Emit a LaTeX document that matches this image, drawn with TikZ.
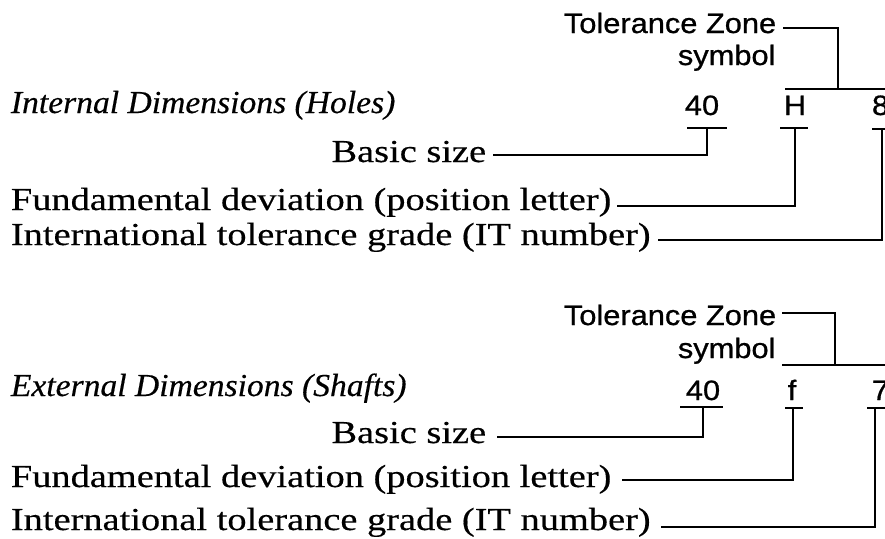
\documentclass[tikz,border=0pt]{standalone}
\usepackage{fontspec}
\setmainfont{Liberation Serif}[FakeStretch=1.2, FakeBold=0.4, ItalicFeatures={FakeStretch=1.05,FakeBold=0.4}]
\newfontfamily\labfont{Liberation Sans}[FakeStretch=1.1, FakeBold=0.8]
\begin{document}
\begin{tikzpicture}[x=1pt,y=-1pt,line width=1.8pt,
  serif/.style={inner sep=0pt,font=\fontsize{32}{38}\selectfont},
  head/.style={inner sep=0pt,font=\fontsize{32}{38}\selectfont\itshape},
  lab/.style={inner sep=0pt,font=\labfont\fontsize{28}{34}\selectfont}]
\useasboundingbox (0,0) rectangle (885,538);
\fill[white] (0,0) rectangle (885,538);

% ---------- Holes ----------
\node[lab,anchor=base west] (tza) at (563,33) {Tolerance Zone};
\node[lab,anchor=base west] (sya) at (677,65) {symbol};
\node[head,anchor=base west] (hda) at (10,113) {Internal Dimensions (Holes)};
\node[lab,anchor=base] (nua) at (702,115) {40};
\node[lab,anchor=base] (pla) at (795,115) {H};
\node[lab,anchor=base west] (gra) at (871,115) {8};
\node[serif,anchor=base east] (bsa) at (487,162) {Basic size};
\node[serif,anchor=base west] (fda) at (10,210) {Fundamental deviation (position letter)};
\node[serif,anchor=base west] (ita) at (10,245) {International tolerance grade (IT number)};

\coordinate (tzca) at (838,89);
\coordinate (brLa) at (785,89);
\coordinate (brRa) at (885,89);
\coordinate (nuLa) at (687,128); \coordinate (nuRa) at (727,128); \coordinate (nuCa) at (707,128);
\coordinate (plLa) at (780,128); \coordinate (plRa) at (808,128); \coordinate (plCa) at (795,128);
\coordinate (grLa) at (872,129); \coordinate (grRa) at (885,129); \coordinate (grCa) at (882,129);

\draw ([shift={(6,-5)}]tza.base east) -| (tzca);
\draw (brLa) -- (brRa);
\draw (nuLa) -- (nuRa);
\draw (plLa) -- (plRa);
\draw (grLa) -- (grRa);
\draw ([shift={(6,-7)}]bsa.base east) -| (nuCa);
\draw ([shift={(5,-4)}]fda.base east) -| (plCa);
\draw ([shift={(7,-5)}]ita.base east) -| (grCa);

% ---------- Shafts ----------
\node[lab,anchor=base west] (tzb) at (563,325) {Tolerance Zone};
\node[lab,anchor=base west] (syb) at (677,358) {symbol};
\node[head,anchor=base west] (hdb) at (10,396) {External Dimensions (Shafts)};
\node[lab,anchor=base] (nub) at (703,400) {40};
\node[lab,anchor=base] (plb) at (792,400) {f};
\node[lab,anchor=base west] (grb) at (871,400) {7};
\node[serif,anchor=base east] (bsb) at (487,443) {Basic size};
\node[serif,anchor=base west] (fdb) at (10,487) {Fundamental deviation (position letter)};
\node[serif,anchor=base west] (itb) at (10,530) {International tolerance grade (IT number)};

\coordinate (tzcb) at (835,365);
\coordinate (brLb) at (782,365);
\coordinate (brRb) at (885,365);
\coordinate (nuLb) at (680,407); \coordinate (nuRb) at (723,407); \coordinate (nuCb) at (703,407);
\coordinate (plLb) at (785,408); \coordinate (plRb) at (803,408); \coordinate (plCb) at (793,408);
\coordinate (grLb) at (867,408); \coordinate (grRb) at (885,408); \coordinate (grCb) at (875,408);

\draw ([shift={(5,-12)}]tzb.base east) -| (tzcb);
\draw (brLb) -- (brRb);
\draw (nuLb) -- (nuRb);
\draw (plLb) -- (plRb);
\draw (grLb) -- (grRb);
\draw ([shift={(10,-6)}]bsb.base east) -| (nuCb);
\draw ([shift={(10,-7)}]fdb.base east) -| (plCb);
\draw ([shift={(10,-3)}]itb.base east) -| (grCb);
\end{tikzpicture}
\end{document}
